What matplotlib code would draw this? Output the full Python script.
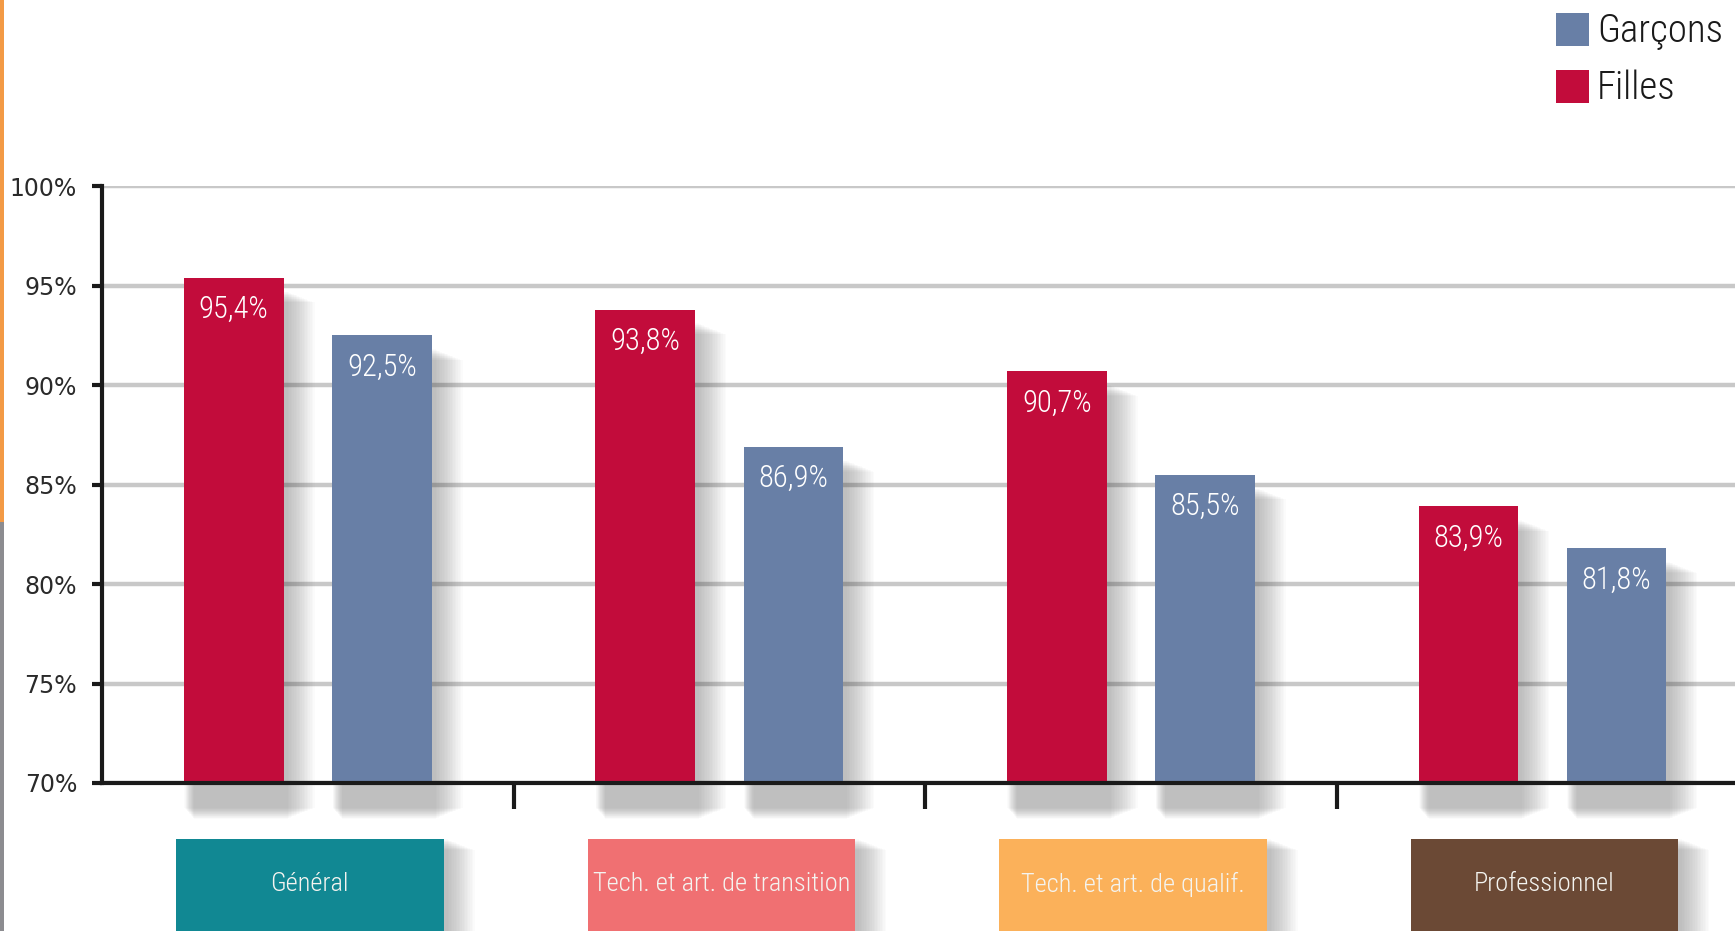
import os
import numpy as np
import matplotlib
matplotlib.use("Agg")
import matplotlib.pyplot as plt
from matplotlib.patches import Rectangle
from matplotlib import font_manager

# data
categories = ["Général", "Tech. et art. de transition", "Tech. et art. de qualif.", "Professionnel"]
filles = [95.4, 93.8, 90.7, 83.9]
garcons = [92.5, 86.9, 85.5, 81.8]
yticks = [70, 75, 80, 85, 90, 95, 100]

RED = "#c20c3b"
BLUE = "#687fa6"
CAT_COLORS = ["#118893", "#f07072", "#fbb15a", "#6b4935"]


def condensed_font():
    """
    look for a narrow font among the installed ones
    """
    wanted = ["RobotoCondensed-Light", "RobotoCondensed-Regular", "OpenSans_Condensed-Light",
              "OpenSansCondensed-Light", "OpenSans_Condensed-Regular", "LiberationSansNarrow-Regular",
              "DejaVuSansCondensed.ttf"]
    files = [f.fname for f in font_manager.fontManager.ttflist]
    for w in wanted:
        for fn in files:
            if os.path.basename(fn).startswith(w):
                return font_manager.FontProperties(fname=fn)
    for f in font_manager.fontManager.ttflist:
        if f.stretch in ("condensed", "semi-condensed") and f.weight in (300, 400, "normal", "light"):
            return font_manager.FontProperties(fname=f.fname)
    return font_manager.FontProperties(family="DejaVu Sans")


def soft_shadow(ax, x0, y0, w, h, steps=18):
    """
    draw a blurred grey shadow behind a rectangle (data coords),
    it mostly spreads to the right and downwards
    """
    px_x = 0.00243
    px_y = 0.05
    for k in range(steps):
        grow = k * 1.6
        left = x0 + 10 * px_x - 0.35 * grow * px_x
        right = x0 + w + 4 * px_x + grow * px_x
        bottom = y0 + grow * px_y * 0.4
        top = y0 + h - 14 * px_y - grow * px_y * 0.4
        r = Rectangle((left, bottom), right - left, top - bottom,
                      facecolor="#404040", alpha=0.018, lw=0, zorder=1, clip_on=False)
        ax.add_patch(r)


def fmt(v):
    return "{:.1f}%".format(v).replace(".", ",")


def main():
    cf = condensed_font()
    fig = plt.figure(figsize=(17.35, 9.31), dpi=100)
    ax = fig.add_axes([0.0588, 0.159, 0.9412, 0.641])

    # left side stripes
    fig.patches.append(Rectangle((0, 0.439), 4 / 1735, 0.561, transform=fig.transFigure,
                                 facecolor="#f39a45", lw=0))
    fig.patches.append(Rectangle((0, 0), 4 / 1735, 0.439, transform=fig.transFigure,
                                 facecolor="#8c8c90", lw=0))

    ax.set_xlim(-0.5, 3.468)
    ax.set_ylim(70, 100)

    x = np.arange(len(categories))
    bw = 0.242
    off = 0.18

    # shadows (they run below the axis too)
    for i in range(len(categories)):
        soft_shadow(ax, x[i] - off - bw / 2, 68.2, bw, filles[i] - 68.2)
        soft_shadow(ax, x[i] + off - bw / 2, 68.2, bw, garcons[i] - 68.2)

    ax.bar(x - off, [v - 70 for v in filles], bottom=70, width=bw, color=RED, zorder=3)
    ax.bar(x + off, [v - 70 for v in garcons], bottom=70, width=bw, color=BLUE, zorder=3)

    for i in range(len(categories)):
        ax.text(x[i] - off, filles[i] - 1.6, fmt(filles[i]), ha="center", va="center",
                color="white", fontproperties=cf, fontsize=22, zorder=4)
        ax.text(x[i] + off, garcons[i] - 1.6, fmt(garcons[i]), ha="center", va="center",
                color="white", fontproperties=cf, fontsize=22, zorder=4)

    # category boxes under the axis
    for i, cat in enumerate(categories):
        cx = x[i] + 0.005
        soft_shadow(ax, cx - 0.325, 55, 0.65, 67.17 - 55 + 0.7)
        box = Rectangle((cx - 0.325, 55), 0.65, 67.17 - 55, facecolor=CAT_COLORS[i],
                        lw=0, zorder=3, clip_on=False)
        ax.add_patch(box)
        ax.text(cx, 64.9, cat, ha="center", va="center", color="#f4f4f0",
                fontproperties=cf, fontsize=19, zorder=4, clip_on=False)

    # axes styling
    for s in ["top", "right"]:
        ax.spines[s].set_visible(False)
    for s in ["left", "bottom"]:
        ax.spines[s].set_linewidth(3)
        ax.spines[s].set_color("#1a1a1a")
        ax.spines[s].set_zorder(5)

    ax.set_yticks(yticks)
    ax.set_yticklabels(["{}%".format(t) for t in yticks], family=["DejaVu Sans"],
                       fontsize=17, color="#2a2a2a")
    ax.tick_params(axis="y", length=7, width=3, color="#1a1a1a", pad=11)
    ax.set_xticks([0.5, 1.5, 2.5])
    ax.set_xticklabels([])
    ax.tick_params(axis="x", length=19, width=3, color="#1a1a1a")
    ax.yaxis.grid(True, color="#c8c8c8", lw=3.2, zorder=0)
    ax.set_axisbelow(True)

    # legend
    fig.patches.append(Rectangle((1556 / 1735, 1 - 46 / 931), 33 / 1735, 33 / 931,
                                 transform=fig.transFigure, facecolor=BLUE, lw=0))
    fig.patches.append(Rectangle((1556 / 1735, 1 - 103 / 931), 33 / 1735, 33 / 931,
                                 transform=fig.transFigure, facecolor=RED, lw=0))
    fig.text(1597 / 1735, 1 - 31 / 931, "Garçons", fontproperties=cf, fontsize=28,
             va="center", ha="left", color="#1a1a1a")
    fig.text(1597 / 1735, 1 - 88 / 931, "Filles", fontproperties=cf, fontsize=28,
             va="center", ha="left", color="#1a1a1a")

    fig.savefig("out.png", dpi=100)


if __name__ == '__main__':
    main()
